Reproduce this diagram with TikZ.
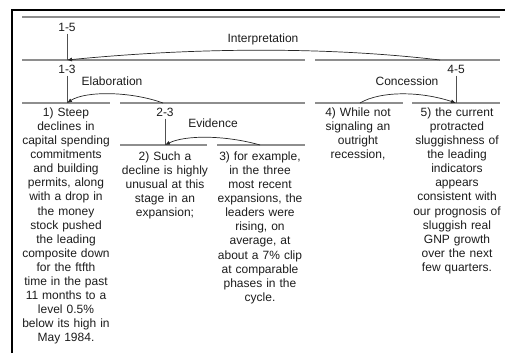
\documentclass[tikz,border=0pt]{standalone}
\usepackage{fontspec}
\setmainfont{Liberation Sans}
\usepackage{xcolor}
\usetikzlibrary{arrows.meta}
\definecolor{spangray}{HTML}{8E8E8E}
\definecolor{stemgray}{HTML}{505050}
\definecolor{txtgray}{HTML}{1C1C1C}

\begin{document}
\begin{tikzpicture}[x=1pt,y=1pt,
  every node/.style={inner sep=0pt,font=\fontsize{12}{14.1}\selectfont,text=txtgray},
  lbl/.style={anchor=base},
  seg/.style={anchor=base,align=center,text width=100pt},
  span/.style={spangray,line width=1.6pt},
  stem/.style={stemgray,line width=1pt},
  rel/.style={black!85,line width=0.7pt,-{Latex[length=5pt,width=4pt]}}]
\useasboundingbox (0,0) rectangle (505,-353);
% frame
\draw [line width=2pt] (12,-353) -- (12,-10) -- (505,-10);
% spans
\draw [span] (22,-17) -- (500,-17);
\draw [span] (22,-60) -- (305,-60);
\draw [span] (315,-60) -- (500,-60);
\draw [span] (22,-103) -- (110,-103);
\draw [span] (120,-103) -- (305,-103);
\draw [span] (315,-103) -- (403,-103);
\draw [span] (412,-103) -- (500,-103);
\draw [span] (120,-145) -- (207,-145);
\draw [span] (217,-145) -- (305,-145);
% span labels and stems
\node [lbl] (n15) at (67,-31.3) {1-5};
\node [lbl] (n13) at (67,-73.3) {1-3};
\node [lbl] (n45) at (456,-73.3) {4-5};
\node [lbl] (n23) at (165,-116.3) {2-3};
\coordinate (t13) at (67,-60);
\coordinate (t1) at (67,-103);
\coordinate (t5) at (456,-103);
\coordinate (t2) at (165,-145);
\draw [stem] ([yshift=-2pt]n15.south) -- (t13);
\draw [stem] ([yshift=-2pt]n13.south) -- (t1);
\draw [stem] ([yshift=-2pt]n45.south) -- (t5);
\draw [stem] ([yshift=-2pt]n23.south) -- (t2);
% relations
\coordinate (s45) at (440,-60);
\coordinate (s23) at (163,-103);
\coordinate (s4) at (360,-103);
\coordinate (s3) at (260,-145);
\draw [rel] (s45) .. controls (330,-47) and (200,-47) .. (t13);
\draw [rel] (s23) .. controls (130,-91) and (85,-91) .. (t1);
\draw [rel] (s4) .. controls (380,-91) and (420,-91) .. (t5);
\draw [rel] (s3) .. controls (225,-135) and (185,-135) .. (t2);
\node [lbl] (interp) at (263,-42.3) {Interpretation};
\node [lbl] (elab) at (112,-85.3) {Elaboration};
\node [lbl] (conc) at (407,-85.3) {Concession};
\node [lbl] (evid) at (213,-127.3) {Evidence};
% segments
\node [seg] (seg1) at (66,-116.3) {1) Steep\\declines in\\capital spending\\commitments\\and building\\permits, along\\with a drop in\\the money\\stock pushed\\the leading\\composite down\\for the ftfth\\time in the past\\11 months to a\\level 0.5\%\\below its high in\\May 1984.};
\node [seg] (seg2) at (165,-160.3) {2) Such a\\decline is highly\\unusual at this\\stage in an\\expansion;};
\node [seg] (seg3) at (260,-160.3) {3) for example,\\in the three\\most recent\\expansions, the\\leaders were\\rising, on\\average, at\\about a 7\% clip\\at comparable\\phases in the\\cycle.};
\node [seg] (seg4) at (358,-116.3) {4) While not\\signaling an\\outright\\recession,};
\node [seg] (seg5) at (457,-116.3) {5) the current\\protracted\\sluggishness of\\the leading\\indicators\\appears\\consistent with\\our prognosis of\\sluggish real\\GNP growth\\over the next\\few quarters.};
\end{tikzpicture}
\end{document}
